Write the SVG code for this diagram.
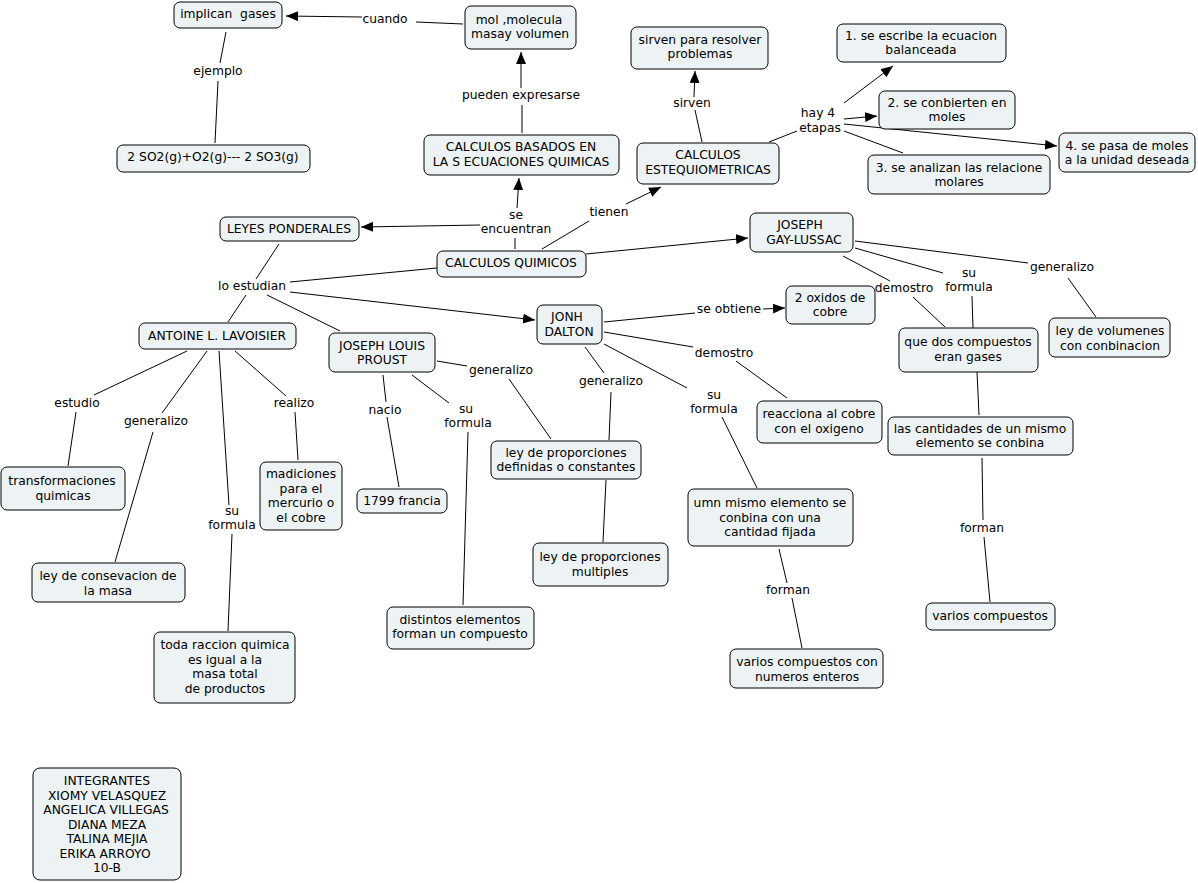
<svg xmlns="http://www.w3.org/2000/svg" width="1198" height="883" viewBox="0 0 1198 883">
<defs>
<marker id="ah" viewBox="0 0 12 10" refX="12" refY="5" markerWidth="12" markerHeight="10" orient="auto" markerUnits="userSpaceOnUse"><path d="M0,0 L12,5 L0,10 z" fill="#000"/></marker>
<style>
rect{fill:#edf3f5;stroke:#000;stroke-width:1}
text{font-family:"DejaVu Sans","Verdana",sans-serif;font-size:12.3px;fill:#000;text-anchor:middle;white-space:pre}
#connectors path{fill:none;stroke:#000;stroke-width:1}
#connectors path.a{marker-end:url(#ah)}
</style>
</defs>
<rect x="0" y="0" width="1198" height="883" style="fill:#fff;stroke:none"/>
<g id="connectors">
<path d="M463,24 L416,22"/>
<path class="a" d="M362,17 L286,16"/>
<path d="M226,32 L220,63"/>
<path d="M218,81 L215,143"/>
<path d="M522,133 L522,105"/>
<path class="a" d="M521,88 L521,52"/>
<path d="M515,249 L515,238"/>
<path class="a" d="M517,208 L519,178"/>
<path class="a" d="M480,225 L361,227"/>
<path d="M542,249 L589,221"/>
<path class="a" d="M626,204 L661,187"/>
<path class="a" d="M586,254 L748,238"/>
<path d="M437,268 L290,282"/>
<path d="M279,244 L256,279"/>
<path class="a" d="M290,292 L535,320"/>
<path d="M246,295 L228,322"/>
<path d="M267,295 L340,331"/>
<path d="M702,142 L695,110"/>
<path class="a" d="M694,97 L695,71"/>
<path d="M769,142 L797,131"/>
<path class="a" d="M844,103 L893,66"/>
<path class="a" d="M844,119 L877,116"/>
<path class="a" d="M844,124 L1057,146"/>
<path d="M844,131 L903,153"/>
<path d="M187,351 L94,395"/>
<path d="M76,412 L68,466"/>
<path d="M207,351 L162,413"/>
<path d="M153,432 L115,562"/>
<path d="M219,351 L229,505"/>
<path d="M232,534 L228,631"/>
<path d="M235,351 L286,396"/>
<path d="M295,412 L298,460"/>
<path d="M383,375 L386,402"/>
<path d="M387,417 L399,487"/>
<path d="M412,375 L449,403"/>
<path d="M468,432 L463,605"/>
<path d="M437,361 L467,366"/>
<path d="M509,379 L551,439"/>
<path d="M604,322 L695,313"/>
<path class="a" d="M763,309 L785,308"/>
<path d="M604,332 L693,347"/>
<path d="M736,361 L787,398"/>
<path d="M585,347 L604,373"/>
<path d="M611,392 L609,440"/>
<path d="M604,344 L687,388"/>
<path d="M722,417 L757,488"/>
<path d="M606,480 L603,542"/>
<path d="M779,549 L787,583"/>
<path d="M792,598 L802,648"/>
<path d="M855,241 L1028,263"/>
<path d="M1068,278 L1096,317"/>
<path d="M855,248 L943,273"/>
<path d="M972,296 L973,328"/>
<path d="M843,256 L890,281"/>
<path d="M913,297 L945,327"/>
<path d="M977,372 L979,415"/>
<path d="M982,458 L983,520"/>
<path d="M984,537 L990,602"/>
</g>
<g id="labels">
<text x="385" y="23">cuando</text>
<text x="218" y="75">ejemplo</text>
<text x="521" y="99">pueden expresarse</text>
<text x="516" y="219">se</text><text x="516" y="233">encuentran</text>
<text x="609" y="216">tienen</text>
<text x="252" y="290">lo estudian</text>
<text x="692" y="107">sirven</text>
<text x="818" y="117">hay 4</text><text x="820" y="132">etapas</text>
<text x="77" y="407">estudio</text>
<text x="156" y="425">generalizo</text>
<text x="232" y="515">su</text><text x="232" y="529">formula</text>
<text x="294" y="407">realizo</text>
<text x="385" y="414">nacio</text>
<text x="466" y="413">su</text><text x="468" y="427">formula</text>
<text x="501" y="374">generalizo</text>
<text x="729" y="313">se obtiene</text>
<text x="724" y="357">demostro</text>
<text x="611" y="385">generalizo</text>
<text x="714" y="399">su</text><text x="714" y="413">formula</text>
<text x="788" y="594">forman</text>
<text x="1062" y="271">generalizo</text>
<text x="969" y="277">su</text><text x="969" y="291">formula</text>
<text x="904" y="292">demostro</text>
<text x="982" y="532">forman</text>
</g>
<g id="n_implican"><rect x="174" y="2" width="108" height="26" rx="6"/><text x="228" y="18">implican  gases</text></g>
<g id="n_mol"><rect x="465" y="6" width="111" height="43" rx="6"/><text x="519" y="24">mol ,molecula</text><text x="520" y="38">masay volumen</text></g>
<g id="n_sirvenpara"><rect x="631" y="27" width="137" height="42" rx="6"/><text x="700" y="44">sirven para resolver</text><text x="700" y="58">problemas</text></g>
<g id="n_paso1"><rect x="837" y="24" width="169" height="38" rx="6"/><text x="921" y="40">1. se escribe la ecuacion</text><text x="921" y="54">balanceada</text></g>
<g id="n_paso2"><rect x="879" y="91" width="136" height="38" rx="6"/><text x="947" y="107">2. se conbierten en</text><text x="947" y="121">moles</text></g>
<g id="n_paso4"><rect x="1059" y="133" width="136" height="39" rx="6"/><text x="1127" y="150">4. se pasa de moles</text><text x="1127" y="164">a la unidad deseada</text></g>
<g id="n_paso3"><rect x="868" y="155" width="182" height="39" rx="6"/><text x="959" y="172">3. se analizan las relacione</text><text x="959" y="186">molares</text></g>
<g id="n_estequio"><rect x="637" y="143" width="142" height="41" rx="6"/><text x="708" y="159">CALCULOS</text><text x="708" y="174">ESTEQUIOMETRICAS</text></g>
<g id="n_basados"><rect x="424" y="135" width="195" height="40" rx="6"/><text x="521" y="151">CALCULOS BASADOS EN</text><text x="521" y="166">LA S ECUACIONES QUIMICAS</text></g>
<g id="n_so2"><rect x="117" y="145" width="193" height="27" rx="6"/><text x="213" y="161">2 SO2(g)+O2(g)--- 2 SO3(g)</text></g>
<g id="n_leyes"><rect x="220" y="217" width="139" height="24" rx="6"/><text x="289" y="233">LEYES PONDERALES</text></g>
<g id="n_quimicos"><rect x="437" y="251" width="149" height="26" rx="6"/><text x="511" y="267">CALCULOS QUIMICOS</text></g>
<g id="n_gay"><rect x="750" y="213" width="103" height="39" rx="6"/><text x="800" y="229">JOSEPH</text><text x="804" y="244">GAY-LUSSAC</text></g>
<g id="n_lavoisier"><rect x="139" y="323" width="157" height="26" rx="6"/><text x="217" y="340">ANTOINE L. LAVOISIER</text></g>
<g id="n_proust"><rect x="329" y="333" width="106" height="39" rx="6"/><text x="382" y="350">JOSEPH LOUIS</text><text x="382" y="364">PROUST</text></g>
<g id="n_transf"><rect x="1" y="467" width="124" height="43" rx="6"/><text x="62" y="485">transformaciones</text><text x="63" y="500">quimicas</text></g>
<g id="n_leycons"><rect x="32" y="563" width="153" height="39" rx="6"/><text x="108" y="580">ley de consevacion de</text><text x="108" y="595">la masa</text></g>
<g id="n_toda"><rect x="154" y="632" width="141" height="71" rx="6"/><text x="225" y="649">toda raccion quimica</text><text x="225" y="664">es igual a la</text><text x="225" y="678">masa total</text><text x="225" y="693">de productos</text></g>
<g id="n_madic"><rect x="260" y="462" width="82" height="68" rx="6"/><text x="301" y="478">madiciones</text><text x="301" y="493">para el</text><text x="301" y="507">mercurio o</text><text x="301" y="522">el cobre</text></g>
<g id="n_1799"><rect x="357" y="489" width="90" height="24" rx="6"/><text x="402" y="505">1799 francia</text></g>
<g id="n_distintos"><rect x="387" y="607" width="147" height="42" rx="6"/><text x="460" y="624">distintos elementos</text><text x="460" y="638">forman un compuesto</text></g>
<g id="n_dalton"><rect x="537" y="305" width="65" height="39" rx="6"/><text x="567" y="321">JONH</text><text x="569" y="336">DALTON</text></g>
<g id="n_oxidos"><rect x="786" y="286" width="89" height="38" rx="6"/><text x="830" y="302">2 oxidos de</text><text x="830" y="316">cobre</text></g>
<g id="n_reacciona"><rect x="757" y="401" width="125" height="42" rx="6"/><text x="819" y="418">reacciona al cobre</text><text x="819" y="433">con el oxigeno</text></g>
<g id="n_leydef"><rect x="491" y="441" width="150" height="38" rx="6"/><text x="566" y="457">ley de proporciones</text><text x="566" y="471">definidas o constantes</text></g>
<g id="n_multiples"><rect x="533" y="543" width="135" height="43" rx="6"/><text x="600" y="561">ley de proporciones</text><text x="600" y="576">multiples</text></g>
<g id="n_umn"><rect x="688" y="489" width="165" height="57" rx="6"/><text x="770" y="507">umn mismo elemento se</text><text x="770" y="522">conbina con una</text><text x="770" y="536">cantidad fijada</text></g>
<g id="n_varioscon"><rect x="730" y="649" width="153" height="39" rx="6"/><text x="807" y="666">varios compuestos con</text><text x="807" y="681">numeros enteros</text></g>
<g id="n_quedos"><rect x="899" y="328" width="139" height="44" rx="6"/><text x="968" y="346">que dos compuestos</text><text x="968" y="361">eran gases</text></g>
<g id="n_leyvol"><rect x="1049" y="318" width="121" height="39" rx="6"/><text x="1110" y="335">ley de volumenes</text><text x="1110" y="350">con conbinacion</text></g>
<g id="n_cantidades"><rect x="888" y="417" width="185" height="38" rx="6"/><text x="980" y="433">las cantidades de un mismo</text><text x="980" y="447">elemento se conbina</text></g>
<g id="n_varios"><rect x="926" y="603" width="129" height="27" rx="6"/><text x="990" y="620">varios compuestos</text></g>
<g id="n_integrantes"><rect x="33" y="768" width="148" height="112" rx="7"/><text x="107" y="785">INTEGRANTES</text><text x="107" y="800">XIOMY VELASQUEZ</text><text x="106" y="814">ANGELICA VILLEGAS</text><text x="107" y="829">DIANA MEZA</text><text x="107" y="843">TALINA MEJIA</text><text x="105" y="858">ERIKA ARROYO</text><text x="107" y="872">10-B</text></g>
</svg>
